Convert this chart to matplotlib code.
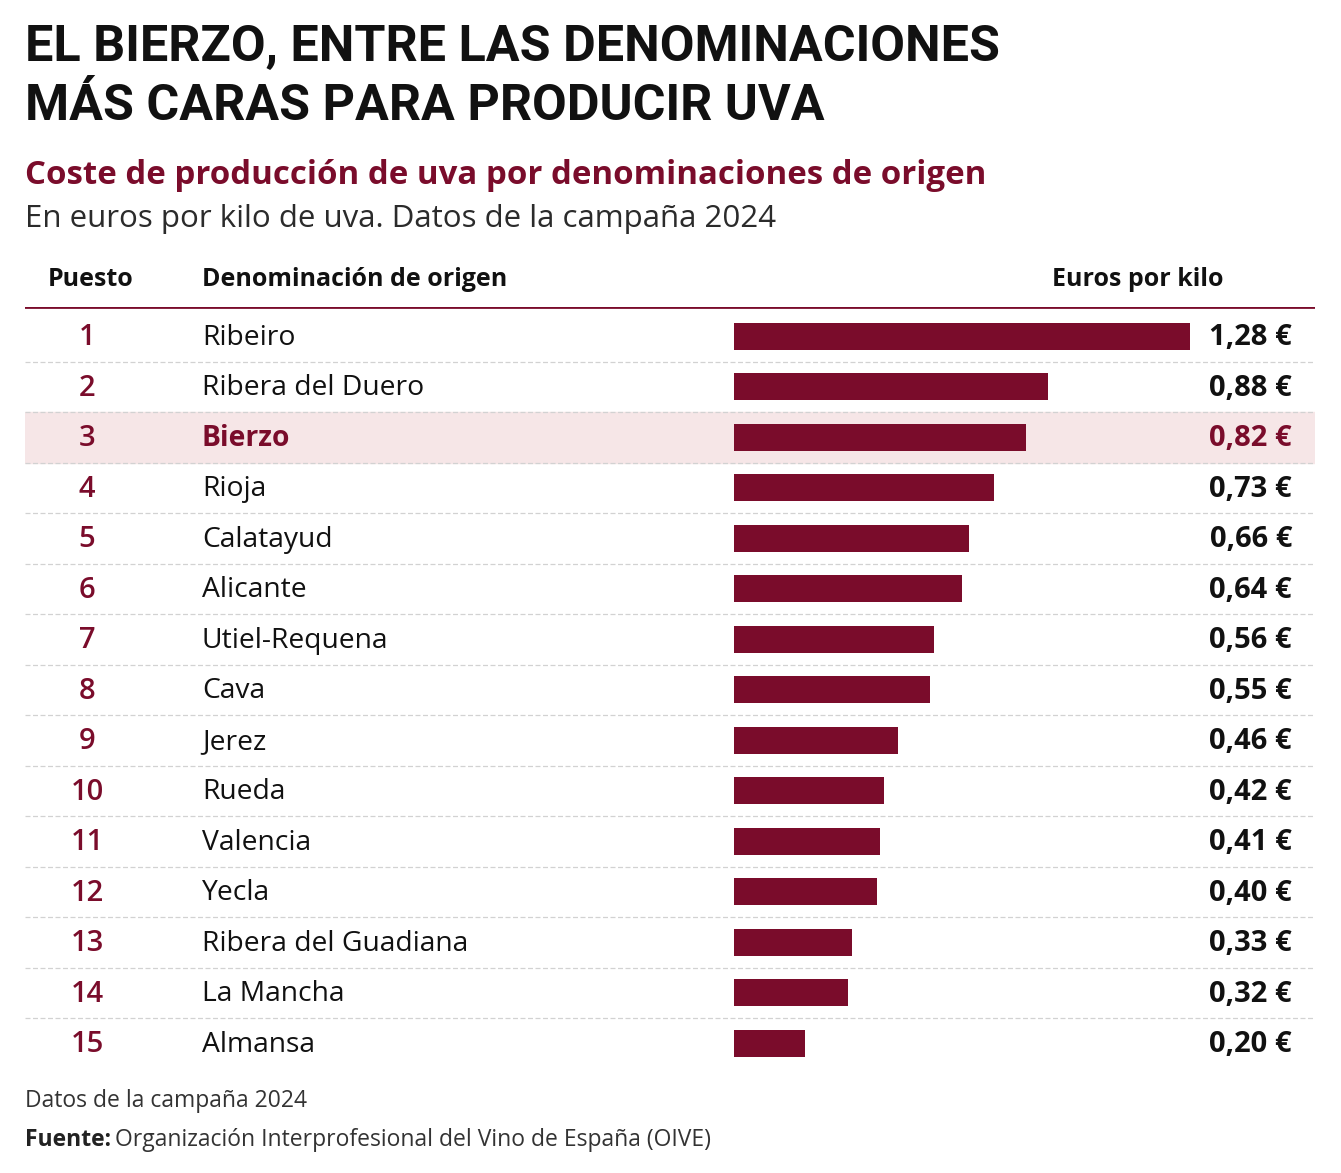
import matplotlib
matplotlib.use("Agg")
import matplotlib.pyplot as plt
from matplotlib import font_manager as fm

# ---------- data ----------
puestos = list(range(1, 16))
denominaciones = ["Ribeiro", "Ribera del Duero", "Bierzo", "Rioja", "Calatayud",
                  "Alicante", "Utiel-Requena", "Cava", "Jerez", "Rueda",
                  "Valencia", "Yecla", "Ribera del Guadiana", "La Mancha", "Almansa"]
euros = [1.28, 0.88, 0.82, 0.73, 0.66, 0.64, 0.56, 0.55, 0.46, 0.42,
         0.41, 0.40, 0.33, 0.32, 0.20]
destacado = "Bierzo"

RED = "#7a0c2b"
W, H = 1341, 1173

plt.rcParams["font.family"] = ["Open Sans", "DejaVu Sans"]
fig = plt.figure(figsize=(W / 100, H / 100), dpi=100)
fig.patch.set_facecolor("white")

def fx(px):
    return px / W

def fy(py):
    return 1 - py / H

# narrow font for the headline if there is one, otherwise Roboto
names = {f.name for f in fm.fontManager.ttflist}
if "Liberation Sans Narrow" in names:
    title_font = ["Liberation Sans Narrow", "DejaVu Sans"]
else:
    title_font = ["Roboto", "DejaVu Sans"]

# ---------- titles ----------
t1 = fig.text(fx(25), fy(47), "EL BIERZO, ENTRE LAS DENOMINACIONES", fontsize=41,
              fontweight="bold", family=title_font, va="center", color="#111111")
t2 = fig.text(fx(25), fy(107), "MÁS CARAS PARA PRODUCIR UVA", fontsize=41,
              fontweight="bold", family=title_font, va="center", color="#111111")
fig.canvas.draw()
w1 = t1.get_window_extent().width
size = min(41 * 975 / w1, 46)
t1.set_fontsize(size)
t2.set_fontsize(size)

fig.text(fx(25), fy(175), "Coste de producción de uva por denominaciones de origen",
         fontsize=23.8, fontweight="bold", color=RED, va="center")
fig.text(fx(25), fy(219), "En euros por kilo de uva. Datos de la campaña 2024",
         fontsize=22.5, color="#2b2b2b", va="center")

# ---------- table axes ----------
left_px, right_px = 25, 1315
bar0_px, bar1_px = 734, 1190
scale = (bar1_px - bar0_px) / max(euros)          # px per euro
xmin = (left_px - bar0_px) / scale
xmax = (right_px - bar0_px) / scale

row_h = 50.5
top_px = 307
ytop = -0.5 - 4 / row_h
ybot = len(euros) - 0.5
bottom_px = top_px + (ybot - ytop) * row_h

ax = fig.add_axes([fx(left_px), fy(bottom_px), fx(right_px - left_px),
                   (bottom_px - top_px) / H])
ax.set_xlim(xmin, xmax)
ax.set_ylim(ybot, ytop)
ax.axis("off")

ys = list(range(len(euros)))
hi = denominaciones.index(destacado)
ax.axhspan(hi - 0.5, hi + 0.5, color="#f6e6e7", zorder=0)

ax.barh(ys, euros, height=0.54, color=RED, zorder=2)

# header line and separators
ax.axhline(ytop, color=RED, lw=2, zorder=3)
for i in range(len(euros) - 1):
    ax.axhline(i + 0.5, color="#d2d2d2", lw=0.9, ls=(0, (4, 2)), zorder=1)

x_num = (87 - bar0_px) / scale
x_name = (202 - bar0_px) / scale
x_val = (1292 - bar0_px) / scale

for y, p, d, v in zip(ys, puestos, denominaciones, euros):
    is_hi = d == destacado
    ax.text(x_num, y + 0.03, str(p), ha="center", va="center", fontsize=21,
            fontweight="semibold", color=RED)
    ax.text(x_name, y + 0.03, d, ha="left", va="center", fontsize=20.3,
            fontweight="bold" if is_hi else "medium",
            color=RED if is_hi else "#111111")
    ax.text(x_val, y + 0.03, f"{v:.2f} €".replace(".", ","), ha="right",
            va="center", fontsize=21, fontweight="bold",
            color=RED if is_hi else "#111111")

# column headers
hdr = dict(va="center", fontsize=18, fontweight="bold", color="#111111")
fig.text(fx(91), fy(280), "Puesto", ha="center", **hdr)
fig.text(fx(202), fy(280), "Denominación de origen", ha="left", **hdr)
fig.text(fx(1138), fy(280), "Euros por kilo", ha="center", **hdr)

# ---------- footer ----------
fig.text(fx(25), fy(1101), "Datos de la campaña 2024", fontsize=16.5,
         color="#333333", va="center")
t = fig.text(fx(25), fy(1140), "Fuente:", fontsize=16.5, fontweight="bold",
             color="#222222", va="center")
fig.canvas.draw()
bb = t.get_window_extent()
fig.text(bb.x1 / W + fx(4), fy(1140),
         "Organización Interprofesional del Vino de España (OIVE)",
         fontsize=16.5, color="#333333", va="center")

fig.savefig("out.png", dpi=100, facecolor="white")
